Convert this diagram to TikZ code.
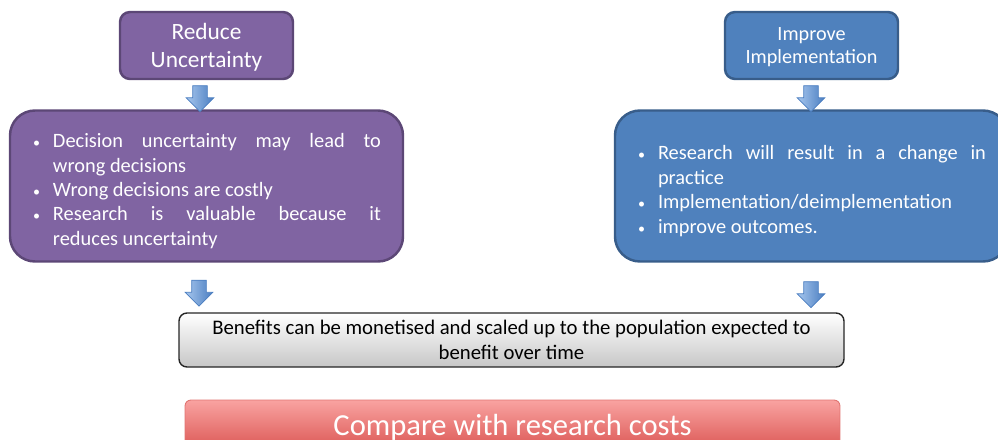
\documentclass[tikz,border=0pt]{standalone}
\usepackage{fontspec}
\setmainfont{Carlito}
\usetikzlibrary{shapes.arrows}

\definecolor{purplefill}{HTML}{8064A2}
\definecolor{purpleedge}{HTML}{5C4776}
\definecolor{bluefill}{HTML}{4F81BD}
\definecolor{blueedge}{HTML}{385D8A}
\definecolor{arrowlight}{HTML}{A7C7EE}
\definecolor{arrowdark}{HTML}{4A7DC0}
\definecolor{redtop}{HTML}{F9A3A1}
\definecolor{redbottom}{HTML}{D9514E}

% bullet with hanging indent
\newcommand{\bul}{\par\noindent\hangindent=0.42cm\hangafter=1%
    \hbox to 0.42cm{\hspace{0.02cm}{\fontsize{8}{8}\selectfont\textbullet}\hfil}}

\begin{document}
\begin{tikzpicture}[
    % Style for the two small heading boxes
    headbox/.style={rectangle, rounded corners=0.2cm, line width=1.4pt,
        text=white, align=center, minimum width=3.46cm, minimum height=1.34cm,
        text depth=0pt},
    % Style for the large bullet boxes
    listbox/.style={rectangle, rounded corners=0.5cm, line width=1.4pt,
        text=white, minimum width=7.86cm, minimum height=3.02cm,
        inner xsep=0.44cm, text width=6.98cm, align=justify,
        font=\fontsize{11.6}{13.9}\selectfont},
    % Style for the blue block arrows
    downarrow/.style={single arrow, rotate=-90, draw=arrowdark, line width=0.4pt,
        minimum height=0.52cm, inner sep=0.14cm,
        single arrow head extend=0.13cm, left color=arrowlight, right color=arrowdark}
]

    \useasboundingbox (0,0) rectangle (19.96,-8.8);

    % --- 1. Define Coordinates ---
    \coordinate (reduce_c) at (4.13, -0.91);
    \coordinate (improve_c) at (16.23, -0.91);
    \coordinate (left_c) at (4.13, -3.72);
    \coordinate (right_c) at (16.23, -3.72);
    \coordinate (benefit_c) at (10.23, -6.80);
    \coordinate (compare_c) at (10.25, -8.54);

    % --- 2. Heading Boxes ---
    \node[headbox, fill=purplefill, draw=purpleedge,
        font=\fontsize{13.3}{16.2}\selectfont] (reduce) at (reduce_c)
        {Reduce\\Uncertainty};
    \node[headbox, fill=bluefill, draw=blueedge,
        font=\fontsize{11.5}{13.2}\selectfont] (improve) at (improve_c)
        {Improve\\Implementation};

    % --- 3. Bullet Boxes ---
    \node[listbox, fill=purplefill, draw=purpleedge] (reasons) at (left_c) {%
        \bul Decision uncertainty may lead to\linebreak wrong decisions
        \bul Wrong decisions are costly
        \bul Research is valuable because it\linebreak reduces uncertainty\par};
    \node[listbox, fill=bluefill, draw=blueedge] (change) at (right_c) {%
        \bul Research will result in a change in\linebreak practice
        \bul Implementation/deimplementation
        \bul improve outcomes.\par};

    % --- 4. Summary Boxes ---
    \node[rectangle, rounded corners=0.16cm, draw=black!85, line width=0.8pt,
        top color=white, bottom color=black!22,
        minimum width=13.3cm, minimum height=1.08cm,
        align=center, font=\fontsize{11.8}{14.2}\selectfont] (benefits) at (benefit_c)
        {Benefits can be monetised and scaled up to the population expected to\\benefit over time};
    \node[rectangle, rounded corners=0.12cm, draw=redbottom!80, line width=0.5pt,
        top color=redtop, bottom color=redbottom, text=white,
        minimum width=13.1cm, minimum height=1.08cm,
        font=\fontsize{17.4}{20}\selectfont] (compare) at (compare_c)
        {Compare with research costs};

    % --- 5. Block Arrows ---
    \node[downarrow] (arr_a) at (4.00, -1.90) {};
    \node[downarrow] (arr_b) at (16.22, -1.90) {};
    \node[downarrow] (arr_c) at (3.98, -5.79) {};
    \node[downarrow] (arr_d) at (16.22, -5.82) {};

\end{tikzpicture}
\end{document}
